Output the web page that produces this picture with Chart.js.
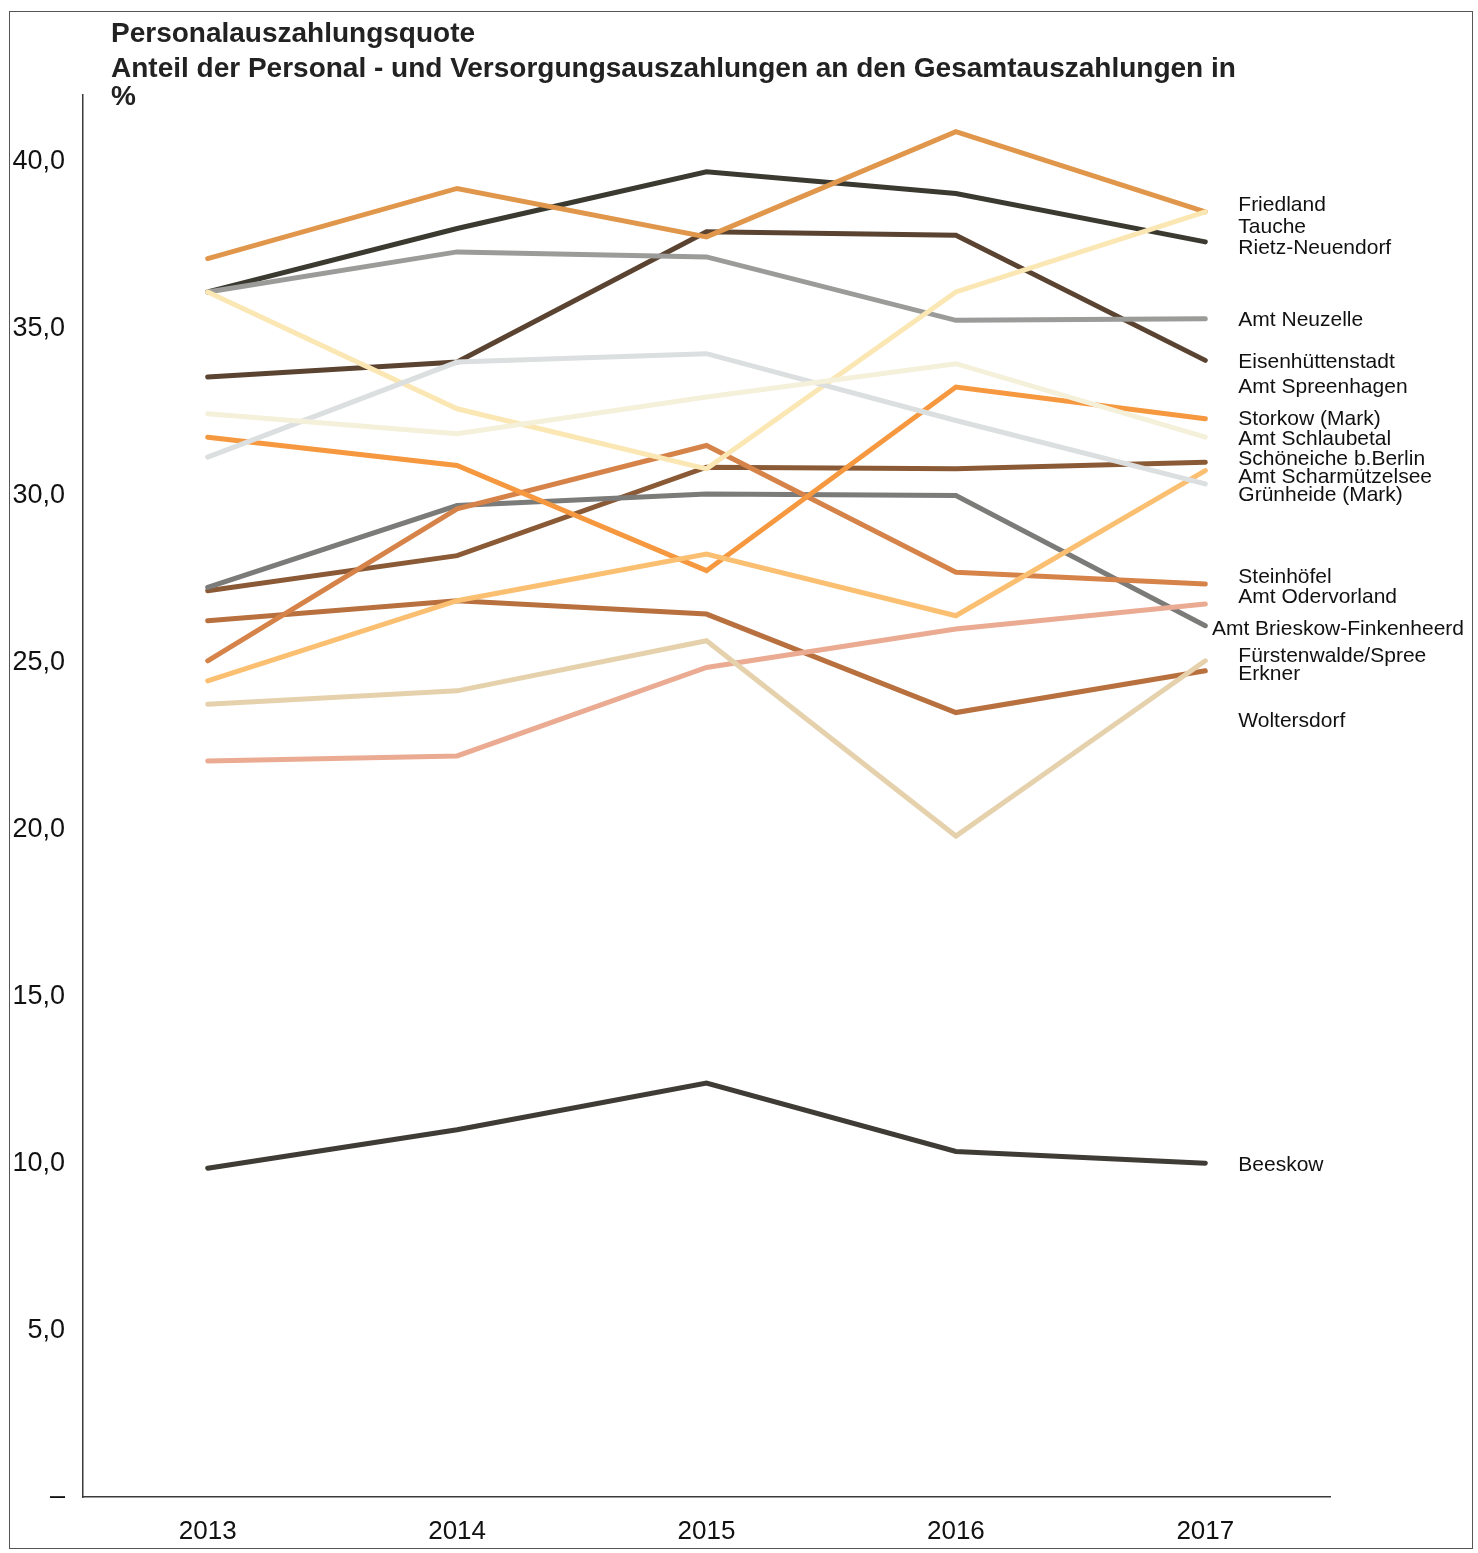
<!DOCTYPE html>
<html>
<head>
<meta charset="utf-8">
<script src="https://cdn.jsdelivr.net/npm/chart.js@4"></script>
<style>
  body { margin: 0; background: #fff; }
  #wrap { position: relative; width: 1478px; height: 1553px; }
  #frame { position: absolute; left: 9px; top: 11px; width: 1462px; height: 1536px; border: 1.5px solid #555; pointer-events: none; }
  canvas { position: absolute; left: 0; top: 0; }
</style>
</head>
<body>
<div id="wrap">
  <canvas id="c" width="1478" height="1553"></canvas>
  <div id="frame"></div>
</div>
<script>
// Jahre
const years = ['2013', '2014', '2015', '2016', '2017']

// Personalauszahlungsquote in %, je Gemeinde
const friedland      = [37.1, 39.2, 37.75, 40.9, 38.5]
const tauche         = [36.1, 32.6, 30.8, 36.1, 38.5]
const rietzNeuendorf = [36.1, 38.0, 39.7, 39.05, 37.6]
const neuzelle       = [36.1, 37.3, 37.15, 35.25, 35.3]
const eisenhuetten   = [33.55, 34.0, 37.9, 37.8, 34.05]
const schlaubetal    = [32.45, 31.85, 32.95, 33.95, 31.75]
const storkow        = [31.75, 30.9, 27.75, 33.25, 32.3]
const gruenheide     = [31.15, 34.0, 34.25, 32.25, 30.35]
const brieskow       = [27.25, 29.7, 30.05, 30.0, 26.1]
const schoeneiche    = [27.15, 28.2, 30.85, 30.8, 31.0]
const erkner         = [26.25, 26.85, 26.45, 23.5, 24.75]
const steinhoefel    = [25.05, 29.6, 31.5, 27.7, 27.35]
const scharmuetzel   = [24.45, 26.85, 28.25, 26.4, 30.75]
const fuerstenwalde  = [23.75, 24.15, 25.65, 19.8, 25.05]
const odervorland    = [22.05, 22.2, 24.85, 26.0, 26.75]
const beeskow        = [9.85, 11.0, 12.4, 10.35, 10.0]

// Beschriftung rechts (Name, Hoehe in %)
const labelNames = ['Friedland', 'Tauche', 'Rietz-Neuendorf', 'Amt Neuzelle', 'Eisenhüttenstadt',
  'Amt Spreenhagen', 'Storkow (Mark)', 'Amt Schlaubetal', 'Schöneiche b.Berlin', 'Amt Scharmützelsee',
  'Grünheide (Mark)', 'Steinhöfel', 'Amt Odervorland', 'Amt Brieskow-Finkenheerd', 'Fürstenwalde/Spree',
  'Erkner', 'Woltersdorf', 'Beeskow']
const labelAt = [38.7, 38.05, 37.4, 35.25, 34.0, 33.25, 32.3, 31.7, 31.1, 30.55,
  30.0, 27.55, 26.95, 26.0, 25.2, 24.65, 23.25, 9.95]

const series = [
  ['Schlaubetal', schlaubetal, '#f5f0da'],
  ['Grünheide (Mark)', gruenheide, '#dcdfdf'],
  ['Tauche', tauche, '#fbe7b3'],
  ['Fürstenwalde/Spree', fuerstenwalde, '#e6d1ad'],
  ['Amt Odervorland', odervorland, '#eaab92'],
  ['Amt Scharmützelsee', scharmuetzel, '#fbbf72'],
  ['Storkow (Mark)', storkow, '#f5983f'],
  ['Steinhöfel', steinhoefel, '#d6834a'],
  ['Erkner', erkner, '#b8703e'],
  ['Friedland', friedland, '#e0964b'],
  ['Amt Neuzelle', neuzelle, '#9b9b9a'],
  ['Amt Brieskow-Finkenheerd', brieskow, '#7b7b79'],
  ['Schöneiche b.Berlin', schoeneiche, '#8a5a37'],
  ['Eisenhüttenstadt', eisenhuetten, '#5a4331'],
  ['Rietz-Neuendorf', rietzNeuendorf, '#3b3a31'],
  ['Beeskow', beeskow, '#3f3b35']
]

const titleLines = ['Personalauszahlungsquote',
  'Anteil der Personal - und Versorgungsauszahlungen an den Gesamtauszahlungen in', '%']

const titlePlugin = {
  id: 'titleText',
  afterDraw(chart) {
    const ctx = chart.ctx
    ctx.save()
    ctx.fillStyle = '#222'
    ctx.font = 'bold 28px "Liberation Sans", Arial, sans-serif'
    ctx.textBaseline = 'alphabetic'
    ctx.fillText(titleLines[0], 111, 42)
    ctx.fillText(titleLines[1], 111, 77)
    ctx.fillText(titleLines[2], 111, 105)
    ctx.restore()
  }
}

const endLabels = {
  id: 'endLabels',
  afterDatasetsDraw(chart) {
    const ctx = chart.ctx
    const x0 = chart.scales.x.getPixelForValue(4) + 33
    ctx.save()
    ctx.fillStyle = '#111'
    ctx.font = '21px "Liberation Sans", Arial, sans-serif'
    ctx.textBaseline = 'middle'
    labelNames.forEach((name, i) => {
      const y = chart.scales.y.getPixelForValue(labelAt[i])
      const w = ctx.measureText(name).width
      let x = x0
      if (x + w > 1464) x = 1464 - w
      ctx.fillText(name, x, y)
    })
    ctx.restore()
  }
}

new Chart(document.getElementById('c'), {
  type: 'line',
  data: {
    labels: years,
    datasets: series.map(s => ({
      label: s[0],
      data: s[1],
      borderColor: s[2],
      borderWidth: 5,
      borderCapStyle: 'round',
      borderJoinStyle: 'miter',
      pointRadius: 0,
      tension: 0,
      fill: false
    }))
  },
  options: {
    responsive: false,
    animation: false,
    devicePixelRatio: 1,
    layout: { padding: { top: 95, right: 148, bottom: 0, left: 0 } },
    plugins: { legend: { display: false }, tooltip: { enabled: false } },
    scales: {
      x: {
        offset: true,
        grid: { display: false },
        border: { display: true, color: '#3a3a3a', width: 1.5 },
        ticks: { color: '#111', font: { size: 26, family: '"Liberation Sans", Arial, sans-serif' }, padding: 11 },
        afterFit: s => { s.height = 56 }
      },
      y: {
        min: 0,
        max: 42,
        grid: { display: false },
        border: { display: true, color: '#3a3a3a', width: 1.5 },
        ticks: {
          stepSize: 5,
          color: '#111',
          padding: 10,
          font: { size: 27, family: '"Liberation Sans", Arial, sans-serif' },
          callback: v => v === 0 ? '–' : (v % 5 === 0 ? v.toFixed(1).replace('.', ',') : '')
        },
        afterFit: s => { s.width = 83 }
      }
    }
  },
  plugins: [titlePlugin, endLabels]
})
</script>
</body>
</html>
